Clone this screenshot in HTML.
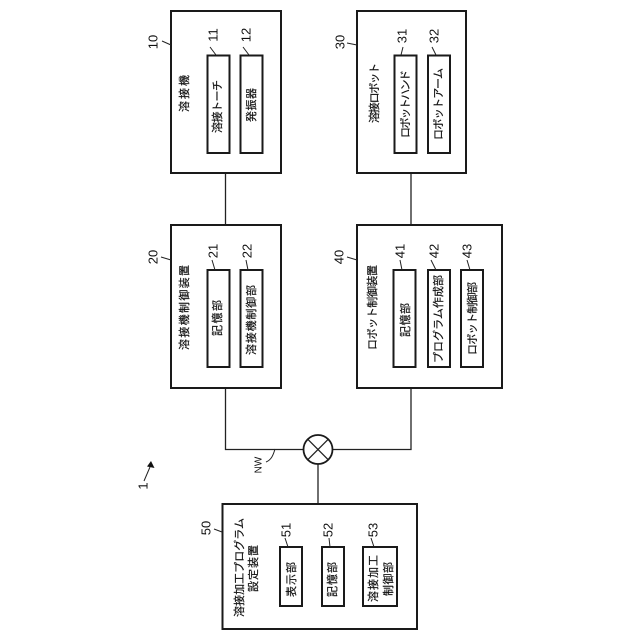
<!DOCTYPE html>
<html lang="ja"><head><meta charset="utf-8"><style>
html,body{margin:0;padding:0;background:#fff}
svg{display:block}
text{font-family:"Liberation Sans","Noto Sans CJK JP",sans-serif;fill:#111;text-anchor:middle;dominant-baseline:central}
.j{font-size:11px;stroke:#111;stroke-width:.2}
.n{font-size:13px}
.b{fill:none;stroke:#1a1a1a;stroke-width:2}
.l{fill:none;stroke:#222;stroke-width:1}
.w{fill:none;stroke:#222;stroke-width:1.3}
</style></head><body>
<svg width="640" height="640" viewBox="0 0 640 640" xmlns="http://www.w3.org/2000/svg">
<path class="w" d="M225.500 173V225M411 173V225M225.500 388V449.500H303M411 388V449.500H333M318 464V504"/>
<circle cx="318" cy="449.500" r="14.500" fill="none" stroke="#1a1a1a" stroke-width="1.800"/>
<path class="w" d="M307.700 439.200L328.300 459.800M328.300 439.200L307.700 459.800"/>
<rect class="b" x="171" y="11" width="110" height="162"/>
<rect class="b" x="207.500" y="55.500" width="22" height="97.500"/>
<rect class="b" x="240.500" y="55.500" width="22" height="97.500"/>
<rect class="b" x="357" y="11" width="109" height="162"/>
<rect class="b" x="394.500" y="55.500" width="22" height="97.500"/>
<rect class="b" x="428" y="55.500" width="22" height="97.500"/>
<rect class="b" x="171" y="225" width="110" height="163"/>
<rect class="b" x="207.500" y="270" width="22" height="97"/>
<rect class="b" x="240.500" y="270" width="22" height="97"/>
<rect class="b" x="357" y="225" width="145" height="163"/>
<rect class="b" x="393.500" y="270" width="22" height="97"/>
<rect class="b" x="428" y="270" width="22" height="97"/>
<rect class="b" x="461" y="270" width="22" height="97"/>
<rect class="b" x="222.500" y="504" width="194.500" height="125"/>
<rect class="b" x="280" y="547" width="22" height="59"/>
<rect class="b" x="322" y="547" width="22" height="59"/>
<rect class="b" x="363" y="547" width="34" height="59"/>
<path class="l" d="M162 41L171 45M210 47L216 55M243 47L249 55M347 43L357 45M403 47L401 55M432 47L436 55M161 257L171 260M212 260L215 270M246 260L248 270M347 257L357 260M400 260L402 270M431 260L436 270M467 260L470 270M214 529L222 532M285 538L288 547M329 538L330 547M371 538L374 547"/>
<path class="l" d="M275 449C273 456 271 460 266 462"/>
<path class="l" d="M144 481L150 467"/>
<path d="M151 461L154.500 468L147 466.500Z" fill="#111"/>
<text class="j" transform="translate(185 93.500) rotate(-90)" textLength="37">溶接機</text>
<text class="j" transform="translate(218 106.500) rotate(-90)" textLength="53">溶接トーチ</text>
<text class="j" transform="translate(252 105) rotate(-90)" textLength="34">発振器</text>
<text class="j" transform="translate(375 93) rotate(-90)" textLength="60">溶接ロボット</text>
<text class="j" transform="translate(406 104) rotate(-90)" textLength="68">ロボットハンド</text>
<text class="j" transform="translate(439 104) rotate(-90)" textLength="72">ロボットアーム</text>
<text class="j" transform="translate(185 307.500) rotate(-90)" textLength="85">溶接機制御装置</text>
<text class="j" transform="translate(218 318) rotate(-90)" textLength="36">記憶部</text>
<text class="j" transform="translate(252 320) rotate(-90)" textLength="70">溶接機制御部</text>
<text class="j" transform="translate(373 307.500) rotate(-90)" textLength="85">ロボット制御装置</text>
<text class="j" transform="translate(406 320) rotate(-90)" textLength="34">記憶部</text>
<text class="j" transform="translate(439 319) rotate(-90)" textLength="88">プログラム作成部</text>
<text class="j" transform="translate(473 318.500) rotate(-90)" textLength="73">ロボット制御部</text>
<text class="j" transform="translate(240 567.500) rotate(-90)" textLength="99">溶接加工プログラム</text>
<text class="j" transform="translate(254 568.500) rotate(-90)" textLength="47">設定装置</text>
<text class="j" transform="translate(292 579.500) rotate(-90)" textLength="35">表示部</text>
<text class="j" transform="translate(333 579.500) rotate(-90)" textLength="35">記憶部</text>
<text class="j" transform="translate(374 578.500) rotate(-90)" textLength="47">溶接加工</text>
<text class="j" transform="translate(389 579) rotate(-90)" textLength="34">制御部</text>
<text class="n" transform="translate(153 42) rotate(-90)">10</text>
<text class="n" transform="translate(213 35) rotate(-90)">11</text>
<text class="n" transform="translate(246 35) rotate(-90)">12</text>
<text class="n" transform="translate(340 42) rotate(-90)">30</text>
<text class="n" transform="translate(402 36) rotate(-90)">31</text>
<text class="n" transform="translate(434 36) rotate(-90)">32</text>
<text class="n" transform="translate(153 257) rotate(-90)">20</text>
<text class="n" transform="translate(213 251) rotate(-90)">21</text>
<text class="n" transform="translate(247 251) rotate(-90)">22</text>
<text class="n" transform="translate(339 257) rotate(-90)">40</text>
<text class="n" transform="translate(400 251) rotate(-90)">41</text>
<text class="n" transform="translate(434 251) rotate(-90)">42</text>
<text class="n" transform="translate(467 251) rotate(-90)">43</text>
<text class="n" transform="translate(206 528) rotate(-90)">50</text>
<text class="n" transform="translate(286 530) rotate(-90)">51</text>
<text class="n" transform="translate(328 530) rotate(-90)">52</text>
<text class="n" transform="translate(373 530) rotate(-90)">53</text>
<text transform="translate(259 465) rotate(-90)" style="font-size:10px">NW</text>
<text class="n" transform="translate(143 486) rotate(-90)">1</text>
</svg>
</body></html>
